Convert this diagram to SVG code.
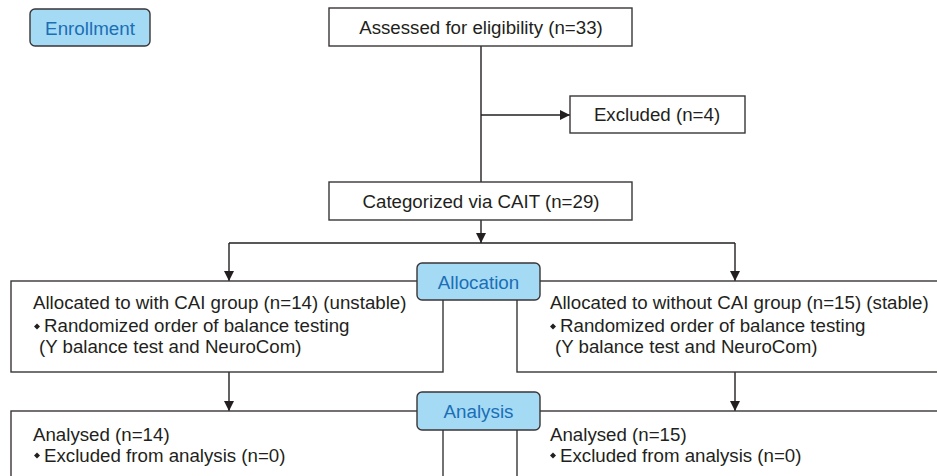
<svg xmlns="http://www.w3.org/2000/svg" width="937" height="476" viewBox="0 0 937 476">
  <style>
    .box { fill: #ffffff; stroke: #3a3536; stroke-width: 1.4; }
    .stage { fill: #a5daf5; stroke: #3a3536; stroke-width: 1.4; }
    .t { font-family: "Liberation Sans", Arial, sans-serif; font-size: 18.7px; fill: #231f20; }
    .st { font-family: "Liberation Sans", Arial, sans-serif; font-size: 18.8px; fill: #1a6fb5; }
    .line { fill: none; stroke: #231f20; stroke-width: 1.4; }
    .dot { fill: #231f20; }
  </style>
  <defs>
    <marker id="arrow" viewBox="0 0 10 10" refX="10" refY="5" markerWidth="10" markerHeight="10" markerUnits="userSpaceOnUse" orient="auto">
      <path d="M0,0 L10,5 L0,10 Z" fill="#231f20"/>
    </marker>
  </defs>

  <!-- connectors -->
  <g id="connectors">
    <path class="line" d="M481,46 V182"/>
    <path class="line" d="M481,115 H570" marker-end="url(#arrow)"/>
    <path class="line" d="M481,220 V243" marker-end="url(#arrow)"/>
    <path class="line" d="M229,243 H735"/>
    <path class="line" d="M229,243 V281" marker-end="url(#arrow)"/>
    <path class="line" d="M735,243 V281" marker-end="url(#arrow)"/>
    <path class="line" d="M229,372 V411" marker-end="url(#arrow)"/>
    <path class="line" d="M735,372 V411" marker-end="url(#arrow)"/>
  </g>

  <g id="enrollment">
    <rect class="stage" x="30" y="9" width="120" height="37" rx="5"/>
    <text class="st" x="90" y="34.5" text-anchor="middle">Enrollment</text>
  </g>

  <g id="assessed">
    <rect class="box" x="329" y="8" width="303" height="38"/>
    <text class="t" x="481" y="34" text-anchor="middle">Assessed for eligibility (n=33)</text>
  </g>

  <g id="excluded">
    <rect class="box" x="570" y="96" width="175" height="37"/>
    <text class="t" x="657" y="121" text-anchor="middle">Excluded (n=4)</text>
  </g>

  <g id="categorized">
    <rect class="box" x="329" y="182" width="303" height="38"/>
    <text class="t" x="481" y="208" text-anchor="middle">Categorized via CAIT (n=29)</text>
  </g>

  <g id="with-cai">
    <rect class="box" x="11" y="281" width="432" height="91"/>
    <text class="t" x="33" y="309">Allocated to with CAI group (n=14) (unstable)</text>
    <path class="dot" d="M37,323.5 l3,3 l-3,3 l-3,-3 Z"/>
    <text class="t" x="44" y="332">Randomized order of balance testing</text>
    <text class="t" x="39" y="353">(Y balance test and NeuroCom)</text>
  </g>

  <g id="without-cai">
    <rect class="box" x="517" y="281" width="430" height="91"/>
    <text class="t" x="550" y="309">Allocated to without CAI group (n=15) (stable)</text>
    <path class="dot" d="M553,323.5 l3,3 l-3,3 l-3,-3 Z"/>
    <text class="t" x="560" y="332">Randomized order of balance testing</text>
    <text class="t" x="555" y="353">(Y balance test and NeuroCom)</text>
  </g>

  <g id="allocation">
    <rect class="stage" x="417" y="263" width="123" height="37" rx="5"/>
    <text class="st" x="478.5" y="288.5" text-anchor="middle">Allocation</text>
  </g>

  <g id="analysed-with">
    <rect class="box" x="11" y="411" width="432" height="80"/>
    <text class="t" x="33" y="441">Analysed (n=14)</text>
    <path class="dot" d="M37,452.5 l3,3 l-3,3 l-3,-3 Z"/>
    <text class="t" x="44" y="462">Excluded from analysis (n=0)</text>
  </g>

  <g id="analysed-without">
    <rect class="box" x="517" y="411" width="430" height="80"/>
    <text class="t" x="550" y="441">Analysed (n=15)</text>
    <path class="dot" d="M553,452.5 l3,3 l-3,3 l-3,-3 Z"/>
    <text class="t" x="560" y="462">Excluded from analysis (n=0)</text>
  </g>

  <g id="analysis">
    <rect class="stage" x="417" y="392" width="123" height="38" rx="5"/>
    <text class="st" x="478.5" y="417.5" text-anchor="middle">Analysis</text>
  </g>
</svg>
